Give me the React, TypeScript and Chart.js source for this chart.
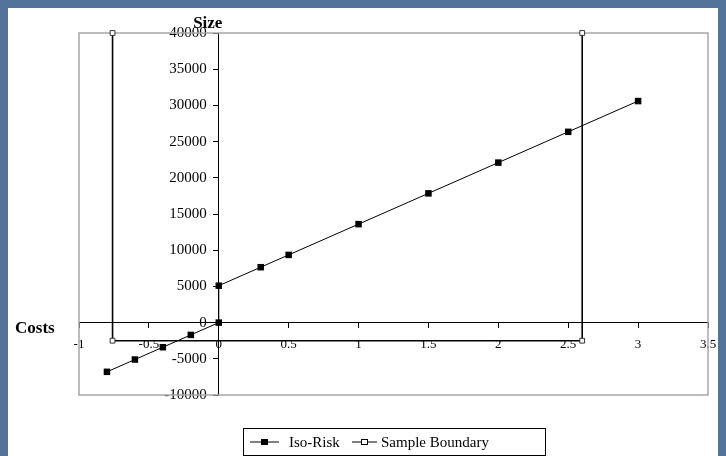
import React, { useEffect, useRef } from "react";
import { Chart, registerables } from "chart.js";

Chart.register(...registerables);

// ---- data ----
const isoRiskX = [-0.8, -0.6, -0.4, -0.2, 0, 0, 0.3, 0.5, 1, 1.5, 2, 2.5, 3];
const isoRiskY = [-6800, -5100, -3400, -1700, 0, 5100, 7650, 9350, 13600, 17850, 22100, 26350, 30600];
const boundaryX = [-0.76, -0.76, 2.6, 2.6];
const boundaryY = [40000, -2500, -2500, 40000];
const seriesNames = ["Iso-Risk", "Sample Boundary"];
const xTicks = [-1, -0.5, 0, 0.5, 1, 1.5, 2, 2.5, 3, 3.5];
const yTicks = [-10000, -5000, 0, 5000, 10000, 15000, 20000, 25000, 30000, 35000, 40000];
const xTitle = "Costs";
const yTitle = "Size";

const SERIF = '"Liberation Serif", "Times New Roman", Times, serif';

const plotFrame = {
  id: "plotFrame",
  beforeDraw(chart: any) {
    // y labels of an axis placed at x=0 sit flush on the axis; move them left of the tick marks
    const ys = chart.scales.y;
    const items = ys.getLabelItems();
    if (!ys._shifted) {
      items.forEach((it: any) => {
        it.options.translation[0] -= 12;
      });
      ys._shifted = true;
    }
  },
  beforeDatasetsDraw(chart: any) {
    const { ctx, chartArea: a } = chart;
    ctx.save();
    ctx.strokeStyle = "#a6a6a6";
    ctx.lineWidth = 1.5;
    ctx.strokeRect(a.left, a.top, a.right - a.left, a.bottom - a.top);
    ctx.restore();
  },
};

const titlesAndLegend = {
  id: "titlesAndLegend",
  afterDraw(chart: any) {
    const { ctx } = chart;
    const xs = chart.scales.x;
    const ys = chart.scales.y;
    const x0 = xs.getPixelForValue(0);
    const y0 = ys.getPixelForValue(0);
    ctx.save();
    ctx.fillStyle = "#000";
    ctx.font = `bold 17px ${SERIF}`;
    ctx.textBaseline = "alphabetic";
    ctx.textAlign = "center";
    ctx.fillText(yTitle, x0 - 11, 20);
    ctx.textAlign = "left";
    ctx.fillText(xTitle, 7, y0 + 10);

    // legend
    const boxL = 235, boxT = 420, boxR = 537, boxB = 447;
    ctx.strokeStyle = "#000";
    ctx.lineWidth = 1;
    ctx.strokeRect(boxL + 0.5, boxT + 0.5, boxR - boxL, boxB - boxT);
    const cy = (boxT + boxB) / 2 + 0.5;
    ctx.font = `15px ${SERIF}`;
    ctx.textBaseline = "middle";
    ctx.textAlign = "left";
    const items = [
      { l1: 242, l2: 271, tx: 281, filled: true, name: seriesNames[0] },
      { l1: 344, l2: 369, tx: 373, filled: false, name: seriesNames[1] },
    ];
    items.forEach((it) => {
      ctx.beginPath();
      ctx.moveTo(it.l1, cy);
      ctx.lineTo(it.l2, cy);
      ctx.strokeStyle = "#000";
      ctx.lineWidth = 1;
      ctx.stroke();
      const mx = (it.l1 + it.l2) / 2;
      if (it.filled) {
        ctx.fillStyle = "#000";
        ctx.fillRect(mx - 3.5, cy - 3, 7, 6);
      } else {
        ctx.fillStyle = "#fff";
        ctx.fillRect(mx - 3, cy - 2.5, 6, 5);
        ctx.strokeRect(mx - 3, cy - 2.5, 6, 5);
      }
      ctx.fillStyle = "#000";
      ctx.fillText(it.name, it.tx, cy + 1);
    });
    ctx.restore();
  },
};

export default function App() {
  const ref = useRef<HTMLCanvasElement | null>(null);

  useEffect(() => {
    if (!ref.current) return;
    const isoData = isoRiskX.map((x, i) => ({ x, y: isoRiskY[i] }));
    const boundData = boundaryX.map((x, i) => ({ x, y: boundaryY[i] }));
    const chart = new Chart(ref.current, {
      type: "scatter",
      data: {
        datasets: [
          {
            label: seriesNames[0],
            data: isoData,
            showLine: true,
            borderColor: "#000",
            borderWidth: 1,
            backgroundColor: "#000",
            pointStyle: "rect",
            pointRadius: 4.6,
            pointBorderWidth: 0,
            pointBackgroundColor: "#000",
            clip: false as any,
          },
          {
            label: seriesNames[1],
            data: boundData,
            showLine: true,
            borderColor: "#000",
            borderWidth: 1.6,
            pointStyle: "rect",
            pointRadius: 3.4,
            pointBorderWidth: 1,
            pointBorderColor: "#333",
            pointBackgroundColor: "#fff",
            clip: false as any,
          },
        ],
      },
      options: {
        animation: false,
        responsive: false,
        maintainAspectRatio: false,
        devicePixelRatio: 1,
        layout: { padding: { left: 71, top: 25, right: 18, bottom: 61 } },
        plugins: { legend: { display: false }, tooltip: { enabled: false } },
        scales: {
          x: {
            type: "linear",
            position: { y: 0 } as any,
            min: xTicks[0],
            max: xTicks[xTicks.length - 1],
            afterBuildTicks: (s: any) => {
              s.ticks = xTicks.map((v) => ({ value: v }));
            },
            ticks: {
              autoSkip: false,
              maxRotation: 0,
              padding: 9,
              color: "#000",
              font: { family: SERIF, size: 13 },
              callback: (v: any) => String(v),
            },
            grid: { drawOnChartArea: false, drawTicks: true, tickLength: 5, color: "#000" },
            border: { display: true, color: "#000", width: 1 },
          },
          y: {
            type: "linear",
            position: { x: 0 } as any,
            min: yTicks[0],
            max: yTicks[yTicks.length - 1],
            afterBuildTicks: (s: any) => {
              s.ticks = yTicks.map((v) => ({ value: v }));
            },
            ticks: {
              autoSkip: false,
              padding: 6,
              color: "#000",
              font: { family: SERIF, size: 15 },
              callback: (v: any) => String(v),
            },
            grid: { drawOnChartArea: false, drawTicks: true, tickLength: 5, color: "#000" },
            border: { display: true, color: "#000", width: 1 },
          },
        },
      },
      plugins: [plotFrame, titlesAndLegend],
    });
    return () => chart.destroy();
  }, []);

  return (
    <>
      <div style={{ position: "fixed", inset: 0, background: "#54739b", zIndex: 0 }} />
      <canvas
        ref={ref}
        width={718}
        height={448}
        style={{
          position: "relative",
          zIndex: 1,
          display: "block",
          width: 718,
          height: 448,
          background: "#fff",
          boxShadow: "-1px -1px 0 #1c2b40",
        }}
      />
    </>
  );
}
